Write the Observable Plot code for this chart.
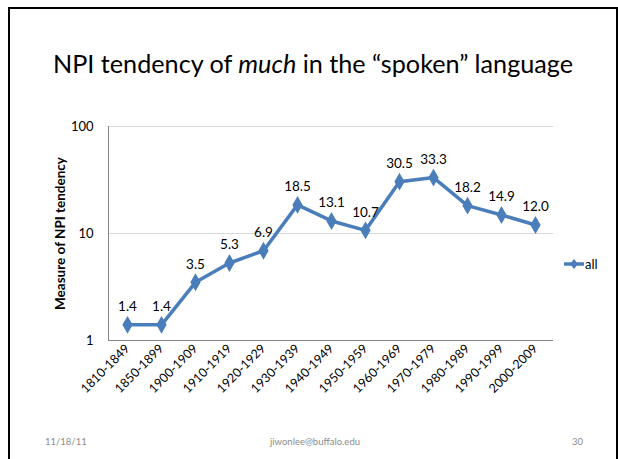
<!DOCTYPE html>
<html>
<head>
<meta charset="utf-8">
<script src="https://cdn.jsdelivr.net/npm/d3@7"></script>
<script src="https://cdn.jsdelivr.net/npm/@observablehq/plot@0.6"></script>
<style>
  html, body { margin: 0; padding: 0; background: #fff; }
  #slide { position: relative; width: 618px; height: 459px; overflow: hidden; font-family: Lato, "Open Sans", sans-serif; }
  #border { position: absolute; left: 8px; top: 7px; width: 606px; height: 470px; border: 2px solid #000; box-sizing: content-box; }
  #title { position: absolute; left: 0; width: 626px; top: 48px; text-align: center; font-size: 25.2px; color: #000; white-space: nowrap; }
  #chart { position: absolute; left: 0; top: 0; }
  .foot { position: absolute; top: 436px; font-size: 9.5px; color: #8b8b8b; }
  #legend { position: absolute; left: 563px; top: 256px; font-size: 13px; display: flex; align-items: center; }
</style>
</head>
<body>
<div id="slide">
  <div id="border"></div>
  <div id="title">NPI tendency of <i>much</i> in the “spoken” language</div>
  <div id="chart"></div>
  <div id="legend"></div>
  <div class="foot" style="left:45px">11/18/11</div>
  <div class="foot" style="left:270px">jiwonlee@buffalo.edu</div>
  <div class="foot" style="left:572px">30</div>
</div>
<script>
const periods = ["1810-1849","1850-1899","1900-1909","1910-1919","1920-1929","1930-1939","1940-1949","1950-1959","1960-1969","1970-1979","1980-1989","1990-1999","2000-2009"];
const values = [1.4, 1.4, 3.5, 5.3, 6.9, 18.5, 13.1, 10.7, 30.5, 33.3, 18.2, 14.9, 12.0];
const yTicks = [1, 10, 100];
const seriesName = "all";
const color = "#4a7ebb";

const data = periods.map((p, i) => ({period: p, value: values[i]}));

const chart = Plot.plot({
  width: 618,
  height: 459,
  marginLeft: 108,
  marginRight: 65,
  marginTop: 126,
  marginBottom: 119,
  style: {fontFamily: "Lato, 'Open Sans', sans-serif", fontSize: "12px", color: "#000", background: "transparent"},
  x: {type: "point", domain: periods, padding: 0.5, label: null},
  y: {type: "log", domain: [1, 100], label: null},
  marks: [
    Plot.ruleY(yTicks.filter(d => d > 1), {stroke: "#d9d9d9", strokeWidth: 1}),
    Plot.ruleY([1], {stroke: "#868686", strokeWidth: 1}),
    Plot.frame({anchor: "left", stroke: "#868686", strokeWidth: 1}),
    Plot.axisY({ticks: yTicks, tickFormat: d => String(d), tickSize: 0, tickPadding: 15, fontSize: 13, label: null}),
    Plot.axisX({tickSize: 0, tickRotate: -45, tickPadding: 6, fontSize: 12.5, label: null}),
    Plot.line(data, {x: "period", y: "value", stroke: color, strokeWidth: 3.5}),
    Plot.dot(data, {x: "period", y: "value", symbol: "diamond", r: 4.5, fill: color, stroke: color}),
    Plot.text(data, {x: "period", y: "value", text: d => d.value.toFixed(1), dy: -18, fontSize: 13.5, fill: "#000"}),
    Plot.text(["Measure of NPI tendency"], {frameAnchor: "left", dx: -48, rotate: -90, textAnchor: "middle", fontWeight: "bold", fontSize: 13.5, fill: "#000"})
  ]
});
document.getElementById("chart").appendChild(chart);

const leg = document.getElementById("legend");
leg.innerHTML = `<svg width="22" height="12" style="display:block"><line x1="1" x2="21" y1="6" y2="6" stroke="${color}" stroke-width="3.5"/><path d="M11,1 L15,6 L11,11 L7,6 Z" fill="${color}"/></svg><span>${seriesName}</span>`;
</script>
</body>
</html>
